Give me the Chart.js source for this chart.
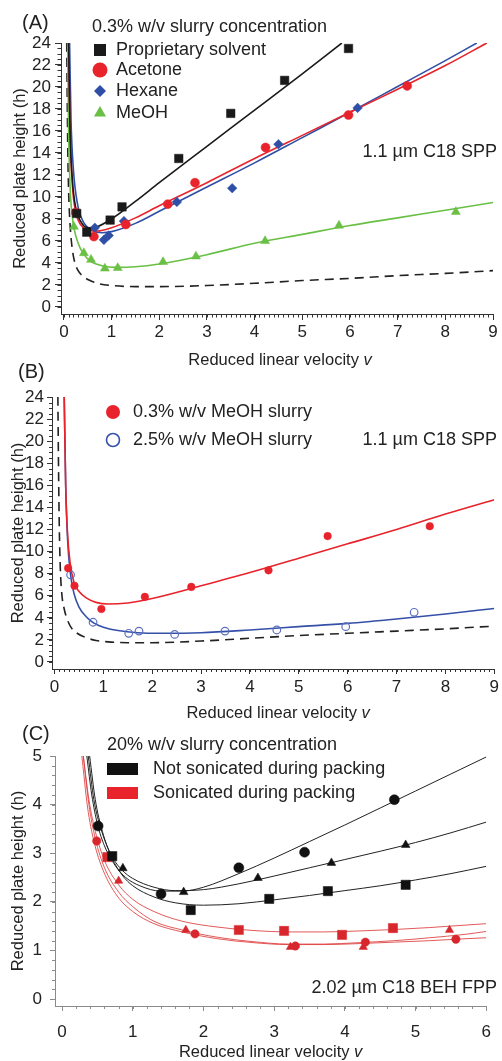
<!DOCTYPE html>
<html><head><meta charset="utf-8">
<script src="https://cdn.jsdelivr.net/npm/chart.js@4/dist/chart.umd.min.js"></script>
<style>
html,body{margin:0;padding:0;background:#fff;}
#wrap{position:relative;width:502px;height:1061px;overflow:hidden;background:#fff;}
canvas{position:absolute;left:0;}
</style></head><body>
<div id="wrap">
<canvas id="cA" width="502" height="375" style="top:0px;width:502px;height:375px"></canvas>
<canvas id="cB" width="502" height="380" style="top:345px;width:502px;height:380px"></canvas>
<canvas id="cC" width="502" height="361" style="top:700px;width:502px;height:361px"></canvas>
</div>
<script>
// ---------------- Panel A data ----------------
const aXTicks = [0,1,2,3,4,5,6,7,8,9];
const aYTicks = [0,2,4,6,8,10,12,14,16,18,20,22,24];
const aPropV = [0.27, 0.48, 0.97, 1.22, 2.41, 3.50, 4.63, 5.97];
const aPropH = [8.5, 6.8, 7.9, 9.1, 13.5, 17.6, 20.6, 23.5];
const aAcetV = [0.25, 0.63, 1.30, 2.18, 2.75, 4.23, 5.97, 7.20];
const aAcetH = [8.6, 6.4, 7.5, 9.35, 11.3, 14.5, 17.45, 20.1];
const aHexV = [0.65, 0.84, 0.94, 1.26, 2.37, 3.53, 4.50, 6.16];
const aHexH = [7.2, 6.1, 6.5, 7.8, 9.55, 10.8, 14.8, 18.1];
const aMeohV = [0.21, 0.42, 0.57, 0.86, 1.13, 2.08, 2.77, 4.22, 5.77, 8.22];
const aMeohH = [7.3, 4.9, 4.3, 3.5, 3.55, 4.1, 4.6, 6.0, 7.4, 8.65];
const aPropFitV = [0.10, 0.13, 0.18, 0.25, 0.35, 0.5, 0.7, 1.0, 1.5, 2, 3, 4, 5, 5.83];
const aPropFitH = [24, 16, 11.5, 9.0, 7.8, 7.2, 7.3, 8.0, 9.6, 11.3, 14.6, 17.9, 21.2, 24];
const aAcetFitV = [0.10, 0.13, 0.18, 0.25, 0.35, 0.5, 0.7, 1.0, 1.5, 2, 3, 4, 5, 6, 7, 8, 8.87];
const aAcetFitH = [24, 16, 11, 8.6, 7.5, 7.0, 6.9, 7.2, 8.1, 9.2, 11.3, 13.5, 15.6, 17.7, 19.8, 21.95, 24];
const aHexFitV = [0.12, 0.15, 0.2, 0.28, 0.4, 0.6, 0.8, 1.0, 1.5, 2, 3, 4, 5, 6, 7, 8, 8.66];
const aHexFitH = [24, 17, 12.5, 9.5, 7.8, 6.95, 6.75, 6.85, 7.6, 8.7, 10.9, 13.1, 15.4, 17.7, 20.05, 22.4, 24];
const aMeohFitV = [0.08, 0.1, 0.13, 0.17, 0.22, 0.3, 0.4, 0.55, 0.8, 1.1, 1.5, 2, 3, 4, 5, 6, 7, 8, 9];
const aMeohFitH = [24, 16, 11, 8.5, 7.0, 5.8, 4.9, 4.2, 3.75, 3.6, 3.65, 3.9, 4.75, 5.8, 6.6, 7.4, 8.1, 8.8, 9.5];
const aDashV = [0.06, 0.08, 0.1, 0.13, 0.17, 0.22, 0.3, 0.4, 0.55, 0.75, 1, 1.5, 2, 3, 4, 5, 6, 7, 8, 9];
const aDashH = [24, 15, 10.5, 7.5, 5.5, 4.2, 3.3, 2.8, 2.4, 2.1, 1.95, 1.85, 1.85, 1.95, 2.15, 2.4, 2.6, 2.85, 3.05, 3.3];

// ---------------- Panel B data ----------------
const bXTicks = [0,1,2,3,4,5,6,7,8,9];
const bYTicks = [0,2,4,6,8,10,12,14,16,18,20,22,24];
const bLowV = [0.28, 0.41, 0.96, 1.85, 2.80, 4.38, 5.59, 7.68];
const bLowH = [8.5, 6.9, 4.8, 5.9, 6.8, 8.3, 11.4, 12.3];
const bHighV = [0.33, 0.79, 1.52, 1.73, 2.46, 3.49, 4.55, 5.96, 7.36];
const bHighH = [7.9, 3.6, 2.6, 2.8, 2.5, 2.8, 2.9, 3.2, 4.5];
const bLowFitV = [0.2, 0.23, 0.27, 0.32, 0.4, 0.5, 0.65, 0.85, 1.1, 1.5, 2, 3, 4, 5, 6, 7, 8, 9];
const bLowFitH = [24, 16, 11.5, 9.0, 7.2, 6.4, 5.8, 5.4, 5.25, 5.35, 5.75, 6.9, 8.1, 9.4, 10.7, 12.0, 13.4, 14.7];
const bHighFitV = [0.2, 0.23, 0.27, 0.33, 0.4, 0.5, 0.65, 0.8, 1, 1.3, 1.7, 2.2, 3, 4, 5, 6, 7, 8, 9];
const bHighFitH = [24, 16, 11, 7.9, 6.2, 5.0, 4.1, 3.55, 3.15, 2.85, 2.65, 2.6, 2.65, 2.9, 3.2, 3.5, 3.9, 4.35, 4.85];
const bDashV = [0.07, 0.085, 0.1, 0.12, 0.15, 0.2, 0.25, 0.33, 0.45, 0.65, 0.85, 1.1, 1.5, 2, 3, 4, 5, 6, 7, 8, 9];
const bDashH = [24, 17, 12, 8.5, 6.2, 4.8, 4.0, 3.2, 2.65, 2.2, 1.95, 1.82, 1.75, 1.75, 1.9, 2.15, 2.4, 2.6, 2.8, 3.0, 3.25];

// ---------------- Panel C data ----------------
const cXTicks = [0,1,2,3,4,5,6];
const cYTicks = [0,1,2,3,4,5];
const cNsCircV = [0.51, 1.40, 2.50, 3.43, 4.70];
const cNsCircH = [3.56, 2.16, 2.70, 3.02, 4.10];
const cNsTriV = [0.86, 1.72, 2.77, 3.81, 4.86];
const cNsTriH = [2.69, 2.20, 2.49, 2.80, 3.17];
const cNsSqV = [0.71, 1.82, 2.93, 3.76, 4.86];
const cNsSqH = [2.94, 1.83, 2.06, 2.22, 2.35];
const cSoCircV = [0.49, 1.88, 3.30, 4.29, 5.57];
const cSoCircH = [3.25, 1.34, 1.09, 1.17, 1.23];
const cSoTriV = [0.80, 1.75, 3.23, 4.26, 5.48];
const cSoTriH = [2.43, 1.42, 1.07, 1.07, 1.42];
const cSoSqV = [0.64, 2.50, 3.14, 3.96, 4.68];
const cSoSqH = [2.92, 1.42, 1.40, 1.32, 1.46];
const cNsCircFitV = [0.35, 0.42, 0.5, 0.6, 0.75, 0.9, 1.1, 1.4, 1.7, 2.0, 2.5, 3.0, 3.5, 4.0, 4.5, 5.0, 5.5, 6.0];
const cNsCircFitH = [5.0, 4.2, 3.6, 3.15, 2.75, 2.5, 2.33, 2.22, 2.22, 2.3, 2.58, 2.9, 3.24, 3.58, 3.93, 4.28, 4.63, 4.98];
const cNsTriFitV = [0.37, 0.45, 0.55, 0.7, 0.85, 1.0, 1.3, 1.6, 2.0, 2.5, 3.0, 3.5, 4.0, 4.5, 5.0, 5.5, 6.0];
const cNsTriFitH = [5.0, 4.1, 3.5, 2.95, 2.65, 2.48, 2.3, 2.23, 2.25, 2.37, 2.53, 2.7, 2.87, 3.04, 3.22, 3.42, 3.64];
const cNsSqFitV = [0.39, 0.47, 0.57, 0.7, 0.85, 1.0, 1.3, 1.6, 2.0, 2.5, 3.0, 3.5, 4.0, 4.5, 5.0, 5.5, 6.0];
const cNsSqFitH = [5.0, 4.1, 3.45, 2.92, 2.55, 2.33, 2.1, 1.98, 1.93, 1.96, 2.04, 2.13, 2.23, 2.33, 2.45, 2.58, 2.73];
const cSoSqFitV = [0.30, 0.38, 0.47, 0.6, 0.8, 1.0, 1.3, 1.7, 2.2, 2.7, 3.2, 3.7, 4.2, 4.7, 5.2, 5.7, 6.0];
const cSoSqFitH = [5.0, 4.1, 3.45, 2.85, 2.35, 2.05, 1.8, 1.6, 1.48, 1.41, 1.38, 1.38, 1.4, 1.43, 1.47, 1.52, 1.55];
const cSoTriFitV = [0.30, 0.38, 0.47, 0.6, 0.8, 1.0, 1.3, 1.7, 2.2, 2.7, 3.2, 3.7, 4.2, 4.7, 5.2, 5.7, 6.0];
const cSoTriFitH = [5.0, 4.0, 3.3, 2.7, 2.2, 1.9, 1.6, 1.42, 1.27, 1.18, 1.13, 1.13, 1.16, 1.2, 1.26, 1.33, 1.39];
const cSoCircFitV = [0.28, 0.36, 0.45, 0.58, 0.78, 1.0, 1.3, 1.7, 2.2, 2.7, 3.2, 3.7, 4.2, 4.7, 5.2, 5.7, 6.0];
const cSoCircFitH = [5.0, 3.95, 3.25, 2.65, 2.12, 1.8, 1.55, 1.38, 1.24, 1.16, 1.12, 1.12, 1.14, 1.17, 1.2, 1.24, 1.26];

// ---------------- helpers ----------------
const FONT = '"Liberation Sans", Arial, Helvetica, sans-serif';
const zip = (xs, ys) => xs.map((x, i) => ({x: x, y: ys[i]}));
function pts(label, xs, ys, style, r, color, filled) {
  return {label: label, data: zip(xs, ys), showLine: false, pointStyle: style,
    pointRadius: r, pointHoverRadius: r,
    pointBackgroundColor: filled === false ? 'rgba(0,0,0,0)' : color,
    pointBorderColor: color, pointBorderWidth: filled === false ? 1.2 : 0.5};
}
function fit(xs, ys, color, width, dash) {
  return {label: '', data: zip(xs, ys), showLine: true, pointRadius: 0, pointHoverRadius: 0,
    borderColor: color, borderWidth: width, borderDash: dash || [], fill: false,
    cubicInterpolationMode: 'monotone'};
}
function marker(ctx, m) {
  ctx.save();
  ctx.beginPath();
  const x = m.x, y = m.y, s = m.size;
  if (m.shape === 'rect') ctx.rect(x - s, y - s, 2 * s, 2 * s);
  else if (m.shape === 'bar') ctx.rect(x, y - m.h / 2, m.w, m.h);
  else if (m.shape === 'circle') ctx.arc(x, y, s, 0, Math.PI * 2);
  else if (m.shape === 'rectRot') { ctx.moveTo(x, y - s); ctx.lineTo(x + s, y); ctx.lineTo(x, y + s); ctx.lineTo(x - s, y); ctx.closePath(); }
  else if (m.shape === 'triangle') {
    for (let k = 0; k < 3; k++) { const a = k * 2 * Math.PI / 3; const px = x + Math.sin(a) * s, py = y - Math.cos(a) * s; k ? ctx.lineTo(px, py) : ctx.moveTo(px, py); }
    ctx.closePath();
  }
  if (m.filled !== false) { ctx.fillStyle = m.color; ctx.fill(); }
  else { ctx.strokeStyle = m.color; ctx.lineWidth = 1.6; ctx.stroke(); }
  ctx.restore();
}
const decor = {
  id: 'decor',
  afterDraw(chart, args, o) {
    const ctx = chart.ctx, xs = chart.scales.x, ys = chart.scales.y;
    ctx.save();
    ctx.strokeStyle = o.axisColor; ctx.lineWidth = 1;
    const nx = Math.floor(xs.max / o.xMinor + 1e-6);
    for (let i = 0; i <= nx; i++) {
      const px = Math.round(xs.getPixelForValue(i * o.xMinor)) + 0.5;
      ctx.beginPath(); ctx.moveTo(px, xs.top); ctx.lineTo(px, xs.top + o.minorLen); ctx.stroke();
    }
    const ny = Math.floor(ys.max / o.yMinor + 1e-6);
    for (let i = 0; i <= ny; i++) {
      const py = Math.round(ys.getPixelForValue(i * o.yMinor)) + 0.5;
      ctx.beginPath(); ctx.moveTo(ys.right, py); ctx.lineTo(ys.right - o.minorLen, py); ctx.stroke();
    }
    // x-axis title with italic v
    ctx.fillStyle = o.textColor; ctx.textBaseline = 'middle'; ctx.textAlign = 'left';
    const t1 = 'Reduced linear velocity ', t2 = 'v';
    const fN = o.titleSize + 'px ' + FONT, fI = 'italic ' + o.titleSize + 'px ' + FONT;
    ctx.font = fN; const w1 = ctx.measureText(t1).width;
    ctx.font = fI; const w2 = ctx.measureText(t2).width;
    const cx = (xs.left + xs.right) / 2 + (o.titleDx || 0);
    const x0 = cx - (w1 + w2) / 2;
    ctx.font = fN; ctx.fillText(t1, x0, o.titleY);
    ctx.font = fI; ctx.fillText(t2, x0 + w1, o.titleY);
    // free texts
    for (const t of o.texts) {
      ctx.font = t.size + 'px ' + FONT; ctx.textAlign = t.align || 'left';
      ctx.fillStyle = o.textColor; ctx.fillText(t.text, t.x, t.y);
    }
    // legend
    for (const it of o.legend) {
      marker(ctx, it);
      ctx.font = it.fs + 'px ' + FONT; ctx.textAlign = 'left'; ctx.fillStyle = o.textColor;
      ctx.fillText(it.text, it.tx, it.y);
    }
    ctx.restore();
  }
};
function axes(p) {
  return {
    x: {type: 'linear', min: p.xmin, max: p.xmax,
      afterBuildTicks: s => { s.ticks = p.xticks.map(v => ({value: v})); },
      afterFit: s => { s.height = p.xh; },
      grid: {display: true, drawOnChartArea: false, drawTicks: true, tickLength: p.tl, tickColor: p.axisColor, tickWidth: 1},
      border: {display: true, color: p.axisColor, width: 1},
      ticks: {font: {family: FONT, size: p.tickSize}, color: p.tickColor, padding: p.xpad, maxRotation: 0, autoSkip: false, callback: v => String(v)},
      title: {display: false}
    },
    y: {type: 'linear', min: p.ymin, max: p.ymax,
      afterBuildTicks: s => { s.ticks = p.yticks.map(v => ({value: v})); },
      afterFit: s => { s.width = p.yw; },
      grid: {display: true, drawOnChartArea: false, drawTicks: true, tickLength: p.tl, tickColor: p.axisColor, tickWidth: 1},
      border: {display: true, color: p.axisColor, width: 1},
      ticks: {font: {family: FONT, size: p.tickSize}, color: p.tickColor, padding: p.ypad, autoSkip: false, callback: v => String(v)},
      title: {display: true, text: 'Reduced plate height (h)', font: {family: FONT, size: 16.5}, color: p.tickColor, padding: {top: p.ytp, bottom: 0}}
    }
  };
}
function makeChart(id, datasets, p, deco) {
  return new Chart(document.getElementById(id), {
    type: 'scatter',
    data: {datasets: datasets},
    options: {
      responsive: false, animation: false, devicePixelRatio: 1,
      layout: {padding: {top: p.top, right: p.right, bottom: 0, left: 0}},
      scales: axes(p),
      plugins: {legend: {display: false}, tooltip: {enabled: false}, decor: deco}
    },
    plugins: [decor]
  });
}

// ---------------- Panel A ----------------
const cBlack = '#1a1a1a', cRed = '#e8232b', cBlue = '#2f4fa6', cGreen = '#6abf45';
makeChart('cA', [
  pts('Proprietary solvent', aPropV, aPropH, 'rect', 6, cBlack),
  pts('Acetone', aAcetV, aAcetH, 'circle', 4.5, cRed),
  pts('Hexane', aHexV, aHexH, 'rectRot', 4.8, cBlue),
  pts('MeOH', aMeohV, aMeohH, 'triangle', 5.2, cGreen),
  fit(aPropFitV, aPropFitH, cBlack, 1.6),
  fit(aAcetFitV, aAcetFitH, cRed, 1.6),
  fit(aHexFitV, aHexFitH, cBlue, 1.6),
  fit(aMeohFitV, aMeohFitH, cGreen, 1.6),
  fit(aDashV, aDashH, '#222', 1.6, [9, 6])
], {xmin: -0.06, xmax: 9, ymin: -0.64, ymax: 24, xticks: aXTicks, yticks: aYTicks,
    top: 43, right: 9, xh: 61, yw: 61, tl: 6, xpad: 2, ypad: 4, ytp: 11,
    tickSize: 17, axisColor: '#333', tickColor: '#222'},
  {axisColor: '#333', textColor: '#222', xMinor: 0.1, yMinor: 0.5, minorLen: 3.5, titleSize: 16.5, titleY: 360, titleDx: 3,
   texts: [
     {text: '(A)', x: 22, y: 23, size: 20},
     {text: '0.3% w/v slurry concentration', x: 92, y: 27, size: 18},
     {text: '1.1 µm C18 SPP', x: 497, y: 152, size: 18, align: 'right'}
   ],
   legend: [
     {text: 'Proprietary solvent', shape: 'rect', size: 6, color: cBlack, x: 100, y: 50, tx: 116, fs: 18},
     {text: 'Acetone', shape: 'circle', size: 7.5, color: cRed, x: 100, y: 70, tx: 116, fs: 18},
     {text: 'Hexane', shape: 'rectRot', size: 6, color: cBlue, x: 100, y: 91, tx: 116, fs: 18},
     {text: 'MeOH', shape: 'triangle', size: 7, color: cGreen, x: 100, y: 113, tx: 116, fs: 18}
   ]});

// ---------------- Panel B ----------------
const bRed = '#e8232b', bBlue = '#3550a8', bBlueO = '#5d6fc0';
makeChart('cB', [
  pts('0.3% w/v MeOH slurry', bLowV, bLowH, 'circle', 3.8, bRed),
  pts('2.5% w/v MeOH slurry', bHighV, bHighH, 'circle', 3.8, bBlueO, false),
  fit(bLowFitV, bLowFitH, bRed, 1.6),
  fit(bHighFitV, bHighFitH, bBlue, 1.6),
  fit(bDashV, bDashH, '#222', 1.6, [9, 6])
], {xmin: -0.05, xmax: 9, ymin: -0.634, ymax: 24, xticks: bXTicks, yticks: bYTicks,
    top: 52, right: 5, xh: 56, yw: 52, tl: 5, xpad: 3, ypad: 3, ytp: 9,
    tickSize: 17, axisColor: '#333', tickColor: '#222'},
  {axisColor: '#333', textColor: '#222', xMinor: 0.1, yMinor: 0.5, minorLen: 3, titleSize: 16.5, titleY: 368, titleDx: 5,
   texts: [
     {text: '(B)', x: 18, y: 27, size: 20},
     {text: '1.1 µm C18 SPP', x: 497, y: 95, size: 18, align: 'right'}
   ],
   legend: [
     {text: '0.3% w/v MeOH slurry', shape: 'circle', size: 7, color: bRed, x: 113, y: 67, tx: 133, fs: 18},
     {text: '2.5% w/v MeOH slurry', shape: 'circle', size: 6.5, color: bBlue, filled: false, x: 113, y: 95, tx: 133, fs: 18}
   ]});

// ---------------- Panel C ----------------
const kBlack = '#111111', kRed = '#d7262c', kRedLine = 'rgba(222,60,60,0.85)';
makeChart('cC', [
  pts('Not sonicated circle', cNsCircV, cNsCircH, 'circle', 5, kBlack),
  pts('Not sonicated triangle', cNsTriV, cNsTriH, 'triangle', 5, kBlack),
  pts('Not sonicated square', cNsSqV, cNsSqH, 'rect', 6.5, kBlack),
  pts('Sonicated circle', cSoCircV, cSoCircH, 'circle', 4.2, kRed),
  pts('Sonicated triangle', cSoTriV, cSoTriH, 'triangle', 4.8, kRed),
  pts('Sonicated square', cSoSqV, cSoSqH, 'rect', 6.5, kRed),
  fit(cNsCircFitV, cNsCircFitH, '#222', 1),
  fit(cNsTriFitV, cNsTriFitH, '#222', 1),
  fit(cNsSqFitV, cNsSqFitH, '#222', 1),
  fit(cSoSqFitV, cSoSqFitH, kRedLine, 1),
  fit(cSoTriFitV, cSoTriFitH, kRedLine, 1),
  fit(cSoCircFitV, cSoCircFitH, kRedLine, 1)
], {xmin: -0.1, xmax: 6, ymin: -0.144, ymax: 5, xticks: cXTicks, yticks: cYTicks,
    top: 56, right: 5, xh: 55, yw: 55, tl: 5, xpad: 11, ypad: 8, ytp: 9,
    tickSize: 17, axisColor: '#8a8a8a', tickColor: '#222'},
  {axisColor: '#8a8a8a', textColor: '#222', xMinor: 0.2, yMinor: 0.2, minorLen: 3, titleSize: 16.5, titleY: 352, titleDx: 0,
   texts: [
     {text: '(C)', x: 22, y: 34, size: 20},
     {text: '20% w/v slurry concentration', x: 107, y: 45, size: 18},
     {text: '2.02 µm C18 BEH FPP', x: 497, y: 288, size: 18, align: 'right'}
   ],
   legend: [
     {text: 'Not sonicated during packing', shape: 'bar', w: 31, h: 12, color: kBlack, x: 107, y: 69, tx: 153, fs: 18},
     {text: 'Sonicated during packing', shape: 'bar', w: 31, h: 12, color: '#e8232b', x: 107, y: 93, tx: 153, fs: 18}
   ]});
</script>
</body></html>
